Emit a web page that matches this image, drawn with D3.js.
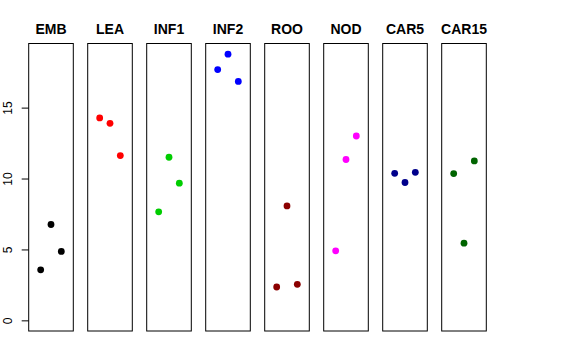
<!DOCTYPE html>
<html>
<head>
    <title>Strip panels</title>
    <style>
        body { margin: 0; background: #fff; font-family: "Liberation Sans", Arial, sans-serif; }
        svg { display: block; }
        .panel rect { fill: none; stroke: #000; stroke-width: 1; }
        .title { font-weight: bold; font-size: 14px; text-anchor: middle; }
        .tick text { font-size: 12px; }
    </style>
</head>
<body>
    <svg id="chart" width="576" height="360"></svg>
    <script src="https://d3js.org/d3.v7.min.js"></script>
    <script>
        // Data
        const groups = ["EMB", "LEA", "INF1", "INF2", "ROO", "NOD", "CAR5", "CAR15"];
        const colors = ["#000000", "#FF0000", "#00CD00", "#0000FF", "#8B0000", "#FF00FF", "#00008B", "#006400"];
        const values = [
            [3.56, 6.76, 4.86],
            [14.27, 13.89, 11.62],
            [7.65, 11.5, 9.67],
            [17.68, 18.77, 16.85],
            [2.35, 8.07, 2.54],
            [4.90, 11.34, 13.0],
            [10.37, 9.72, 10.44],
            [10.35, 5.44, 11.24]
        ];
        const yTicks = [0, 5, 10, 15];

        const svg = d3.select("#chart");

        // layout
        const panelW = 44.6, step = 59, left0 = 28.7;
        const plotTop = 43.5, plotBottom = 331;

        // shared y scale (0..max with 4% padding, like R)
        const yMax = d3.max(values.flat());
        const pad = yMax * 0.04;
        const y = d3.scaleLinear().domain([-pad, yMax + pad]).range([plotBottom, plotTop]);

        // x inside a panel: points at 1,2,3 on 0..4
        const x = d3.scaleLinear().domain([-0.16, 4.16]).range([0, panelW]);

        const panels = svg.selectAll("g.panel")
            .data(groups)
            .enter().append("g")
            .attr("class", "panel")
            .attr("transform", (d, i) => `translate(${left0 + i * step},0)`);

        panels.append("rect")
            .attr("x", 0)
            .attr("y", plotTop)
            .attr("width", panelW)
            .attr("height", plotBottom - plotTop);

        panels.append("text")
            .attr("class", "title")
            .attr("x", panelW / 2)
            .attr("y", 34)
            .text(d => d);

        panels.each(function(d, i) {
            d3.select(this).selectAll("circle")
                .data(values[i])
                .enter().append("circle")
                .attr("cx", (v, j) => x(j + 1))
                .attr("cy", v => y(v))
                .attr("r", 3.4)
                .attr("fill", colors[i]);
        });

        // y axis on the first panel
        const axis = svg.append("g")
            .attr("transform", `translate(${left0},0)`)
            .call(d3.axisLeft(y).tickValues(yTicks).tickSize(7).tickPadding(0));
        axis.select(".domain").remove();
        axis.selectAll(".tick line").attr("stroke", "#000");
        axis.selectAll(".tick text")
            .attr("x", 0)
            .attr("dy", 0)
            .attr("text-anchor", "middle")
            .attr("fill", "#000")
            .attr("transform", "translate(-16.5,0) rotate(-90)");
    </script>
</body>
</html>
